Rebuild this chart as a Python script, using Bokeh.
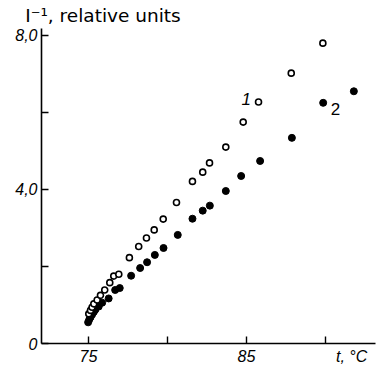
from bokeh.plotting import figure
from bokeh.models import Range1d, FixedTicker, Label, LinearAxis
from bokeh.embed import file_html
from bokeh.resources import INLINE

# Series 1 (open circles)
x1 = [75.02, 75.13, 75.23, 75.34, 75.55, 75.76, 76.03, 76.35, 76.60, 76.92, 77.59,
      78.18, 78.67, 79.16, 79.73, 80.57, 81.58, 82.23, 82.66, 83.69, 84.79, 85.76,
      87.83, 89.83]
y1 = [0.77, 0.86, 0.94, 1.03, 1.13, 1.25, 1.39, 1.58, 1.75, 1.80, 2.23,
      2.52, 2.74, 2.95, 3.23, 3.66, 4.21, 4.45, 4.69, 5.10, 5.75, 6.27,
      7.02, 7.80]

# Series 2 (filled circles)
x2 = [74.98, 75.05, 75.13, 75.23, 75.34, 75.44, 75.65, 75.87, 76.28, 76.69, 76.98,
      77.70, 78.27, 78.71, 79.20, 79.75, 80.65, 81.58, 82.23, 82.68, 83.69,
      84.66, 85.86, 87.87, 89.85, 91.79]
y2 = [0.55, 0.62, 0.68, 0.75, 0.82, 0.88, 0.96, 1.06, 1.17, 1.39, 1.44,
      1.76, 1.96, 2.11, 2.30, 2.48, 2.82, 3.24, 3.45, 3.58, 3.96,
      4.35, 4.74, 5.34, 6.25, 6.55]

x_tick_marks = [75, 80, 85, 90]
x_label_pos = [75, 85, 91.65]
x_tick_labels = {75: "75", 85: "85", 91.65: "t, \u00b0C"}
y_ticks = [0, 2, 4, 6, 8]
y_tick_labels = {0: "0", 2: "", 4: "4,0", 6: "", 8: "8,0"}
title_pos = 75.92
title_text = "I\u207b\u00b9, relative units"

FONT = "Liberation Sans"

p = figure(width=378, height=369, output_backend="svg", toolbar_location=None,
           x_range=Range1d(72.03, 93.16), y_range=Range1d(0, 8.18),
           min_border_left=41, min_border_right=3, min_border_top=28,
           min_border_bottom=26)
p.outline_line_color = None
p.xgrid.grid_line_color = None
p.ygrid.grid_line_color = None
p.background_fill_color = "white"
p.border_fill_color = "white"

for ax in (p.xaxis[0], p.yaxis[0]):
    ax.axis_line_width = 1.6
    ax.axis_line_color = "black"
    ax.major_tick_in = 7
    ax.major_tick_out = 0
    ax.minor_tick_out = 0
    ax.major_tick_line_width = 1.4
    ax.major_tick_line_color = "black"
    ax.minor_tick_line_color = None
    ax.major_label_text_font = FONT
    ax.major_label_text_font_style = "italic"
    ax.major_label_text_font_size = "16px"
    ax.major_label_text_color = "black"
    ax.major_label_standoff = 4

# x axis: unlabeled tick marks drawn as minor ticks, labels as invisible major ticks
xa = p.xaxis[0]
xa.ticker = FixedTicker(ticks=x_label_pos, minor_ticks=x_tick_marks)
xa.major_label_overrides = x_tick_labels
xa.major_tick_line_color = None
xa.major_tick_in = 0
xa.minor_tick_line_color = "black"
xa.minor_tick_line_width = 1.4
xa.minor_tick_in = 7
xa.minor_tick_out = 0

p.yaxis[0].ticker = FixedTicker(ticks=y_ticks)
p.yaxis[0].major_label_overrides = y_tick_labels

# Title as an axis label above the frame
ta = LinearAxis(ticker=FixedTicker(ticks=[title_pos]),
                major_label_overrides={title_pos: title_text})
ta.axis_line_color = None
ta.major_tick_line_color = None
ta.minor_tick_line_color = None
ta.major_tick_in = 0
ta.major_tick_out = 0
ta.minor_tick_in = 0
ta.minor_tick_out = 0
ta.major_label_text_font = "DejaVu Sans"
ta.major_label_text_font_size = "18.5px"
ta.major_label_text_color = "black"
ta.major_label_standoff = 3
p.add_layout(ta, "above")

p.scatter(x2, y2, size=7, marker="circle", fill_color="black", line_color="black")
p.scatter(x1, y1, size=6, marker="circle", fill_color="white", line_color="black",
          line_width=1.6)

# Curve labels
p.add_layout(Label(x=84.98, y=6.36, text="1", text_font=FONT, text_font_style="italic",
                   text_font_size="17px", text_color="black", text_align="center",
                   text_baseline="middle"))
p.add_layout(Label(x=90.63, y=6.10, text="2", text_font=FONT, text_color="black",
                   text_font_size="17px", text_align="center", text_baseline="middle"))

open("out.html", "w").write(file_html(p, INLINE))
